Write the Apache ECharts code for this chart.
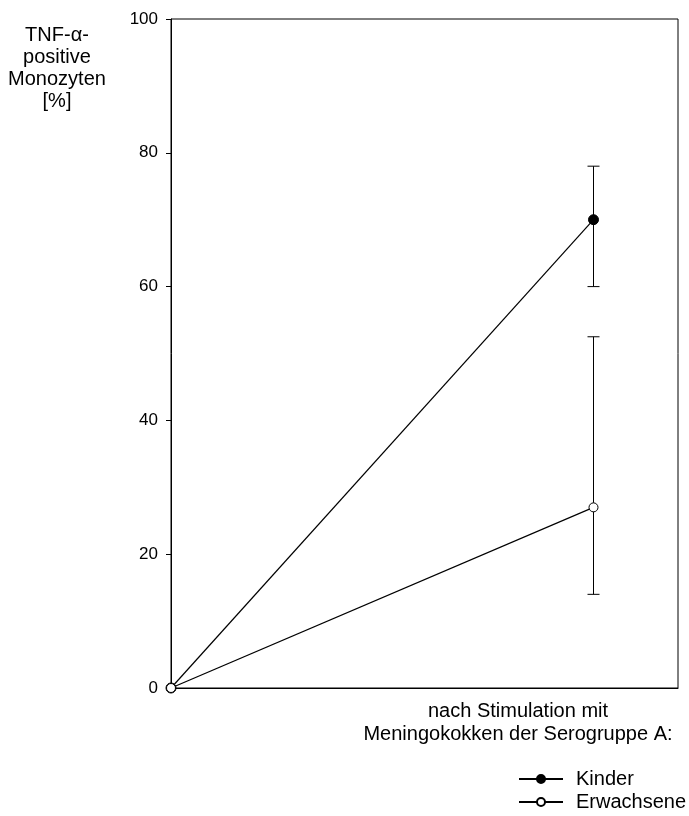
<!DOCTYPE html>
<html>
<head>
<meta charset="utf-8">
<script src="https://cdn.jsdelivr.net/npm/echarts@6/dist/echarts.min.js"></script>
<style>html,body{margin:0;padding:0;background:#fff;}#c{width:689px;height:816px;}</style>
</head>
<body>
<div id="c"></div>
<script>
// Data
const xPos = [0, 1];
const kinder = [0, 70];
const erwachsene = [0, 27];
const kinderLow = [null, 60];
const kinderHigh = [null, 78];
const erwLow = [null, 14];
const erwHigh = [null, 52.5];
const yTicks = [0, 20, 40, 60, 80, 100];
const seriesNames = ['Kinder', 'Erwachsene'];
const yTitle = ['TNF-α-', 'positive', 'Monozyten', '[%]'];
const xTitle = ['nach Stimulation mit', 'Meningokokken der Serogruppe A:'];

const FONT = 'Liberation Sans, Arial, sans-serif';

function pairs(ys) { return xPos.map((x, i) => [x, ys[i]]); }
function errData(lo, hi) {
  const out = [];
  xPos.forEach((x, i) => { if (lo[i] != null) out.push([x, lo[i], hi[i]]); });
  return out;
}
function errRender(params, api) {
  const x = api.value(0);
  const lo = api.coord([x, api.value(1)]);
  const hi = api.coord([x, api.value(2)]);
  const cap = 6;
  const st = { stroke: '#000', lineWidth: 1 };
  return {
    type: 'group',
    children: [
      { type: 'line', shape: { x1: lo[0], y1: lo[1], x2: hi[0], y2: hi[1] }, style: st },
      { type: 'line', shape: { x1: lo[0] - cap, y1: lo[1], x2: lo[0] + cap, y2: lo[1] }, style: st },
      { type: 'line', shape: { x1: hi[0] - cap, y1: hi[1], x2: hi[0] + cap, y2: hi[1] }, style: st }
    ]
  };
}
function legendFor(name, top) {
  return {
    orient: 'horizontal', left: 518, top: top, padding: 0,
    itemWidth: 44, itemHeight: 10, itemGap: 0,
    textStyle: { fontSize: 20, color: '#000', fontFamily: FONT, padding: [0, 0, 0, 8] },
    data: [name]
  };
}

const chart = echarts.init(document.getElementById('c'), null, { renderer: 'canvas' });
chart.setOption({
  animation: false,
  backgroundColor: '#fff',
  textStyle: { fontFamily: FONT, color: '#000' },
  grid: { left: 171, top: 19, right: 11, bottom: 128, show: true, borderColor: '#000', borderWidth: 1, backgroundColor: 'transparent' },
  xAxis: {
    type: 'value', min: 0, max: 1.2,
    axisLine: { show: true, lineStyle: { color: '#000', width: 1 } },
    axisTick: { show: false }, axisLabel: { show: false }, splitLine: { show: false }
  },
  yAxis: {
    type: 'value', min: yTicks[0], max: yTicks[yTicks.length - 1], interval: 20,
    axisLine: { show: true, lineStyle: { color: '#000', width: 1 } },
    axisTick: { show: true, length: 5, inside: false, lineStyle: { color: '#000' } },
    axisLabel: { color: '#000', fontSize: 17, margin: 13, fontFamily: FONT },
    splitLine: { show: false }
  },
  legend: [legendFor(seriesNames[0], 769), legendFor(seriesNames[1], 792)],
  graphic: [
    { type: 'text', x: 57, y: 24, style: { text: yTitle.join('\n'), fontSize: 20, lineHeight: 22, fontFamily: FONT, fill: '#000', align: 'center', verticalAlign: 'top' } },
    { type: 'text', x: 518, y: 700, style: { text: xTitle.join('\n'), fontSize: 20, lineHeight: 23, fontFamily: FONT, fill: '#000', align: 'center', verticalAlign: 'top' } }
  ],
  series: [
    { type: 'custom', name: 'errK', renderItem: errRender, data: errData(kinderLow, kinderHigh), z: 1, silent: true },
    { type: 'custom', name: 'errE', renderItem: errRender, data: errData(erwLow, erwHigh), z: 1, silent: true },
    { type: 'line', name: seriesNames[0], data: pairs(kinder), symbol: 'circle', symbolSize: 10, clip: false, z: 3,
      lineStyle: { color: '#000', width: 1.2 }, itemStyle: { color: '#000', borderColor: '#000', borderWidth: 1 } },
    { type: 'line', name: seriesNames[1], data: pairs(erwachsene), symbol: 'circle', symbolSize: 9, clip: false, z: 4,
      lineStyle: { color: '#000', width: 1.2 }, itemStyle: { color: '#fff', borderColor: '#000', borderWidth: 1 } }
  ]
});
</script>
</body>
</html>
